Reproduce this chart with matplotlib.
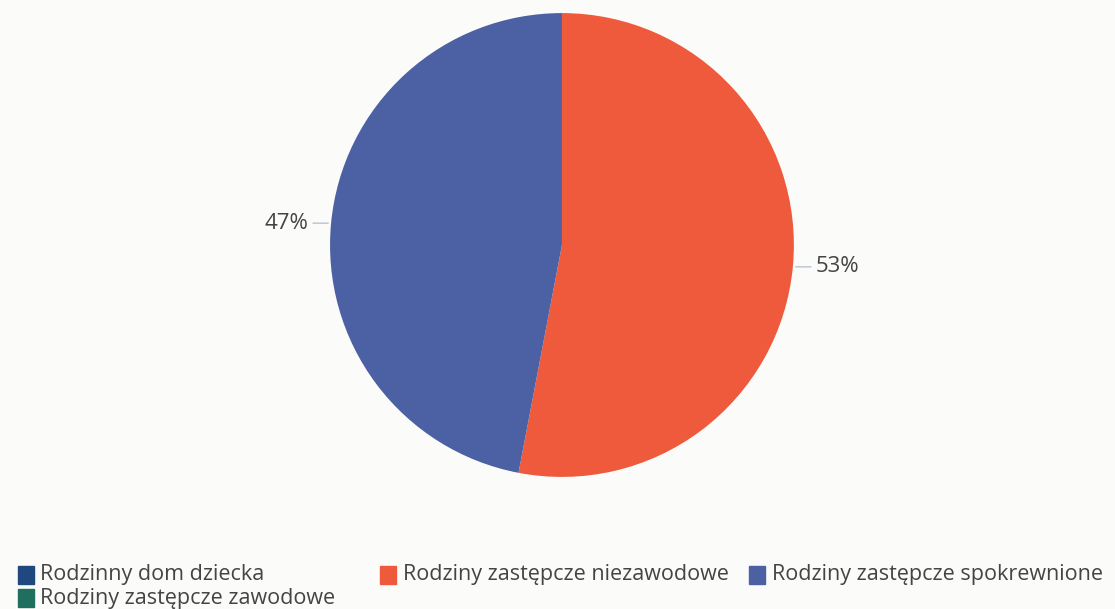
import numpy as np
import matplotlib.pyplot as plt
from matplotlib.patches import Rectangle

plt.rcParams['font.family'] = ['Open Sans', 'DejaVu Sans']

# pie data
slice_labels = ['Rodziny zastępcze niezawodowe', 'Rodziny zastępcze spokrewnione']
slice_values = [53, 47]
slice_colors = ['#EE5A3B', '#4C61A3']

# legend entries (all categories, some with no share)
legend_labels = ['Rodzinny dom dziecka', 'Rodziny zastępcze zawodowe',
                 'Rodziny zastępcze niezawodowe', 'Rodziny zastępcze spokrewnione']
legend_colors = ['#21477F', '#1F6E5E', '#EE5A3B', '#4C61A3']

fig = plt.figure(figsize=(11.15, 6.09), dpi=100)
fig.patch.set_facecolor('#fbfbf9')

ax = fig.add_axes([0.296, 0.2167, 0.416, 0.762])
wedges, _ = ax.pie(slice_values, colors=slice_colors, startangle=90,
                   counterclock=False, radius=1.0)
ax.set_xlim(-1, 1)
ax.set_ylim(-1, 1)
ax.set_aspect('equal')
ax.axis('off')

# percent labels with short leader lines
for w, v in zip(wedges, slice_values):
    ang = np.deg2rad((w.theta1 + w.theta2) / 2)
    x, y = np.cos(ang), np.sin(ang)
    side = 1 if x > 0 else -1
    ax.annotate('', xy=(x, y), xytext=(x + side * 0.09, y),
                arrowprops=dict(arrowstyle='-', color='#b9c5d2', lw=1),
                annotation_clip=False)
    ax.text(x + side * 0.1, y, f'{v}%', ha='left' if side > 0 else 'right',
            va='center', fontsize=16, color='#444444', clip_on=False)

# legend drawn by hand to follow the original layout
leg_pos = [(0.016, 0.056), (0.016, 0.018), (0.341, 0.056), (0.672, 0.056)]
for (lx, ly), lab, col in zip(leg_pos, legend_labels, legend_colors):
    fig.patches.append(Rectangle((lx, ly - 0.015), 0.0145, 0.03,
                                 transform=fig.transFigure, color=col))
    fig.text(lx + 0.020, ly, lab, fontsize=15.5, color='#444444', va='center')

fig.savefig('out.png', dpi=100, facecolor=fig.get_facecolor())
